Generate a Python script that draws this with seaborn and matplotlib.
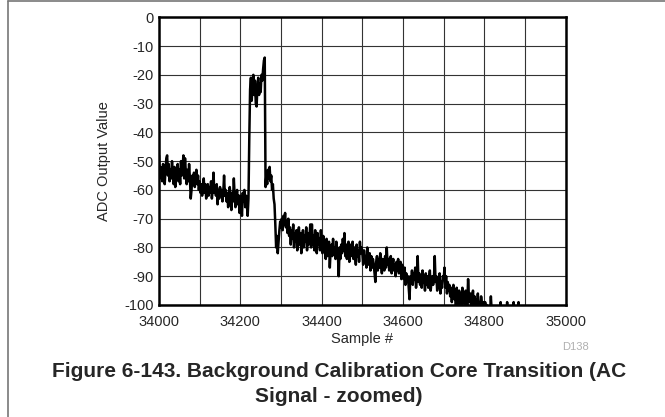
import numpy as np
import pandas as pd
import matplotlib
matplotlib.use('Agg')
import matplotlib.pyplot as plt
import seaborn as sns

# sample numbers, one value every 2 samples
sample_start = 34000
sample_step = 2

# ADC output values (50 values = 100 samples per row)
adc_values = [
    # 34000
    -48, -56, -52, -55, -57, -51, -54, -58, -53, -49,
    -48, -55, -51, -57, -53, -56, -50, -55, -58, -52,
    -59, -54, -56, -51, -57, -53, -58, -50, -55, -52,
    -48, -56, -49, -54, -58, -53, -57, -51, -56, -63,
    -60, -55, -58, -54, -59, -56, -53, -58, -55, -60,
    # 34100
    -57, -61, -58, -62, -59, -56, -61, -58, -63, -60,
    -58, -62, -59, -61, -57, -63, -60, -54, -61, -59,
    -62, -58, -65, -60, -63, -59, -62, -60, -64, -61,
    -55, -62, -60, -64, -61, -66, -62, -59, -63, -67,
    -61, -64, -56, -62, -66, -63, -60, -65, -62, -68,
    # 34200
    -62, -65, -69, -61, -64, -60, -66, -62, -65, -69,
    -63, -42, -25, -21, -29, -23, -20, -27, -22, -30,
    -31, -24, -21, -27, -23, -26, -20, -22, -18, -15,
    -14, -59, -55, -58, -53, -56, -52, -57, -55, -60,
    -58, -63, -65, -72, -80, -76, -82, -78, -74, -71,
    # 34300
    -73, -70, -74, -69, -72, -68, -73, -71, -75, -70,
    -76, -73, -79, -74, -77, -72, -80, -75, -78, -74,
    -81, -76, -73, -79, -75, -82, -77, -74, -80, -76,
    -78, -73, -81, -75, -79, -76, -72, -80, -72, -79,
    -76, -81, -74, -78, -82, -75, -79, -77, -81, -74,
    # 34400
    -78, -82, -76, -81, -79, -84, -77, -83, -80, -78,
    -87, -81, -79, -83, -77, -82, -80, -84, -78, -81,
    -83, -90, -80, -84, -79, -82, -77, -81, -75, -83,
    -79, -84, -80, -78, -85, -81, -79, -83, -78, -84,
    -80, -82, -86, -79, -83, -81, -85, -78, -82, -80,
    # 34500
    -82, -86, -81, -85, -83, -87, -80, -84, -86, -82,
    -88, -83, -87, -84, -86, -89, -92, -85, -83, -88,
    -84, -87, -82, -86, -89, -84, -85, -88, -83, -87,
    -80, -86, -84, -88, -85, -83, -89, -86, -84, -88,
    -86, -90, -85, -88, -84, -89, -87, -85, -91, -86,
    # 34600
    -88, -91, -87, -93, -89, -92, -90, -94, -98, -90,
    -92, -88, -93, -89, -91, -87, -94, -90, -83, -92,
    -89, -93, -90, -94, -88, -92, -91, -95, -89, -93,
    -90, -94, -91, -88, -95, -92, -90, -93, -91, -83,
    -92, -90, -95, -91, -94, -89, -96, -92, -94, -90,
    # 34700
    -91, -87, -94, -90, -96, -92, -95, -93, -97, -94,
    -99, -95, -93, -98, -96, -100, -94, -97, -101, -95,
    -98, -96, -100, -94, -99, -97, -101, -95, -98, -100,
    -91, -97, -99, -96, -101, -98, -95, -100, -97, -102,
    -98, -100, -96, -101, -99, -103, -97, -100, -102, -99,
    # 34800
    -101, -99, -103, -100, -102, -104, -101, -103, -97, -102,
    -104, -102, -105, -103, -101, -104, -106, -103, -105, -104,
    -99, -104, -106, -103, -105, -107, -104, -106, -99, -105,
    -107, -104, -106, -105, -108, -106, -99, -105, -107, -106,
    -108, -105, -99, -106, -108, -107, -109, -106, -108, -107,
]

x_ticks = [34000, 34200, 34400, 34600, 34800, 35000]
y_ticks = [0, -10, -20, -30, -40, -50, -60, -70, -80, -90, -100]

samples = sample_start + sample_step * np.arange(len(adc_values))
df = pd.DataFrame({'Sample #': samples, 'ADC Output Value': adc_values})

sns.set_style('white')
plt.rcParams['font.family'] = ['Liberation Sans', 'DejaVu Sans']
plt.rcParams['axes.unicode_minus'] = False

W, H = 665, 417
fig = plt.figure(figsize=(W / 100, H / 100), dpi=100)
ax = fig.add_axes([159 / W, 1 - 305 / H, (565.7 - 159) / W, (305 - 17.3) / H])

sns.lineplot(data=df, x='Sample #', y='ADC Output Value', color='black', linewidth=1.8, ax=ax)

ax.set_xlim(34000, 35000)
ax.set_ylim(-100, 0)
ax.set_xticks(x_ticks)
ax.set_yticks(y_ticks)
ax.set_xticks(np.arange(34000, 35001, 100), minor=True)
ax.grid(True, which='both', color='#333333', linewidth=0.8)
ax.tick_params(which='both', length=0, labelsize=10.5)
ax.tick_params(axis='x', pad=7)
ax.tick_params(axis='y', pad=4)
ax.set_xlabel('Sample #', fontsize=10.5, labelpad=2)
ax.set_ylabel('ADC Output Value', fontsize=10.5, labelpad=9)
for s in ax.spines.values():
    s.set_color('black')
    s.set_linewidth(1.8)
    s.set_zorder(5)

fig.text(575.5 / W, 1 - 347 / H, 'D138', fontsize=8, color='#b0b0b0', ha='center', va='center')
fig.text(339 / W, 1 - 377 / H, 'Figure 6-143. Background Calibration Core Transition (AC',
         fontsize=15, fontweight='bold', ha='center', va='baseline')
fig.text(339 / W, 1 - 401.5 / H, 'Signal - zoomed)',
         fontsize=15, fontweight='bold', ha='center', va='baseline')

# page border (left and top edges)
fig.add_artist(plt.Line2D([8 / W, 8 / W], [0, 1 - 1 / H], color='#777777', linewidth=1.2))
fig.add_artist(plt.Line2D([8 / W, 1], [1 - 1 / H, 1 - 1 / H], color='#777777', linewidth=1.2))

fig.savefig('out.png', dpi=100)
